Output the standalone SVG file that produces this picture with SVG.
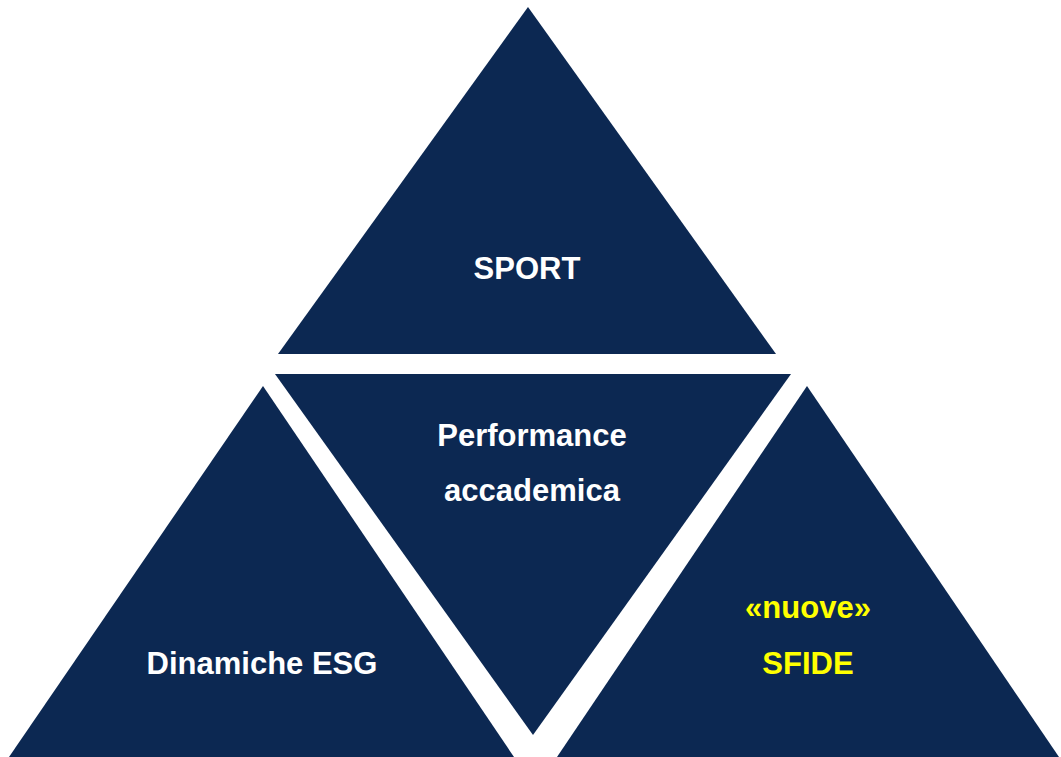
<svg xmlns="http://www.w3.org/2000/svg" width="1061" height="757" viewBox="0 0 1061 757">
<style>
.tri{fill:#0c2852;}
.t{font-family:"Liberation Sans",Arial,sans-serif;font-weight:bold;font-size:31px;text-anchor:middle;fill:#ffffff;}
.y{fill:#ffff00;}
</style>
<rect width="1061" height="757" fill="#ffffff"/>
<g id="sport">
<polygon class="tri" points="528,7 776,354 278,354"/>
<text class="t" x="527" y="279">SPORT</text>
</g>
<g id="performance">
<polygon class="tri" points="275,374 791,374 533,735"/>
<text class="t" x="532" y="446">Performance</text>
<text class="t" x="532" y="501">accademica</text>
</g>
<g id="esg">
<polygon class="tri" points="263,386 514,757 9,757"/>
<text class="t" x="262" y="674">Dinamiche ESG</text>
</g>
<g id="sfide">
<polygon class="tri" points="807,386 1059,757 557,757"/>
<text class="t y" x="808" y="618">«nuove»</text>
<text class="t y" x="808" y="674">SFIDE</text>
</g>
<g id="connectors"></g>
</svg>
